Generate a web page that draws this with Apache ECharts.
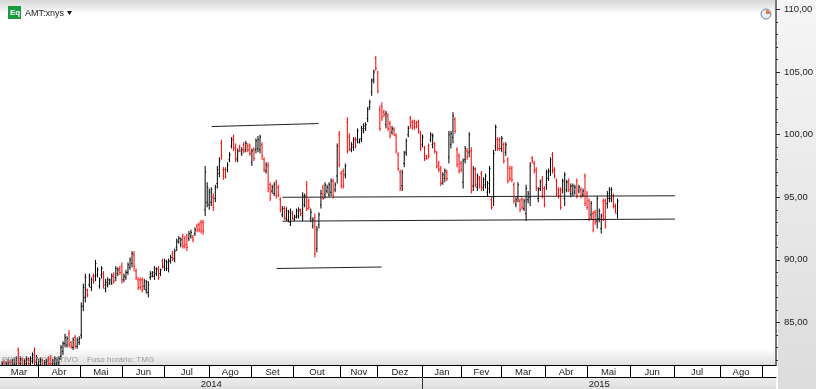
<!DOCTYPE html>
<html>
<head>
<meta charset="utf-8">
<style>
    html, body { margin: 0; padding: 0; background: #fff; }
    #chart { width: 816px; height: 389px; }
</style>
<script src="https://cdn.jsdelivr.net/npm/echarts@6/dist/echarts.min.js"></script>
</head>
<body>
<div id="chart"></div>
<script>
// ======================================数据======================================
var highs = [
    81.9,82.0,81.9,82.1,82.0,82.1,82.2,82.3,83.0,82.3,
    82.2,82.1,82.3,82.2,82.3,82.6,83.0,82.4,82.1,82.2,
    82.1,82.0,82.1,82.3,82.4,82.1,82.3,82.2,82.3,83.2,
    83.5,84.1,83.9,84.4,83.5,83.8,84.0,83.8,83.9,86.6,
    88.1,88.9,87.7,88.9,88.6,88.9,90.0,89.4,88.6,89.5,
    89.1,88.5,88.6,88.5,88.9,89.0,89.5,89.4,89.5,89.8,
    88.9,89.2,89.8,90.2,90.7,90.7,89.3,88.6,88.6,88.6,
    88.5,88.4,88.3,89.1,89.1,89.5,89.4,89.5,89.3,90.1,
    90.1,90.0,90.1,90.4,90.7,90.9,91.7,91.9,91.8,92.1,
    91.9,92.1,92.3,92.4,92.0,92.6,92.9,93.0,93.2,93.2,
    97.5,96.2,95.7,95.8,95.3,96.0,97.5,98.2,99.6,97.4,
    97.4,97.8,98.6,99.8,100.0,99.3,98.9,99.2,99.0,99.4,
    99.5,99.3,99.3,98.9,99.0,99.7,99.9,100.0,99.4,98.2,
    97.8,97.8,96.2,96.0,96.2,96.4,96.0,95.0,94.3,94.3,
    94.2,94.0,94.1,93.9,93.6,94.1,94.2,94.1,95.4,95.3,
    96.3,94.9,94.1,93.4,93.7,92.7,93.8,95.6,96.0,96.2,
    96.0,96.2,96.5,96.5,96.2,99.3,100.3,97.1,97.3,97.7,
    101.4,100.1,99.4,99.8,99.8,100.5,99.7,100.7,100.9,101.0,
    102.2,102.8,104.5,105.2,106.3,105.1,102.3,102.6,102.0,101.9,
    101.7,101.1,100.7,100.6,100.1,98.6,97.2,97.2,98.7,99.7,
    100.7,101.5,101.2,101.2,101.1,101.2,100.3,100.0,99.1,98.4,
    99.3,100.2,100.1,99.4,98.7,97.9,97.5,97.0,97.3,97.2,
    100.3,100.3,101.8,101.4,99.0,98.5,97.9,98.1,99.1,98.9,
    100.2,99.0,97.5,97.4,96.9,96.7,97.1,96.6,96.9,96.3,
    97.5,95.0,98.8,100.8,99.8,99.8,99.9,99.4,99.4,98.2,
    97.5,97.5,96.2,95.0,96.2,94.9,95.0,94.9,96.0,95.5,
    97.8,98.3,97.9,97.4,95.8,96.4,96.7,95.9,97.2,97.3,
    98.2,98.6,97.4,96.5,95.8,95.8,96.5,97.0,96.4,96.5,
    96.1,96.1,96.0,96.5,96.0,95.8,95.7,96.9,95.5,94.9,
    94.7,93.9,94.0,95.1,94.1,93.7,94.9,94.9,95.5,95.8,
    95.8,95.3,94.5,94.9
];
var lows = [
    81.2,81.2,81.2,81.3,81.2,81.3,81.4,81.4,81.5,81.5,
    81.4,81.3,81.5,81.4,81.5,81.7,81.6,81.6,81.4,81.4,
    81.3,81.3,81.4,81.5,81.5,81.4,81.5,81.5,81.6,82.0,
    82.4,83.0,83.0,83.0,82.9,82.8,82.9,82.9,83.2,83.7,
    85.9,86.6,87.0,87.8,87.5,88.1,88.3,88.6,87.7,88.5,
    87.7,87.4,87.8,88.0,88.0,88.1,88.3,88.7,88.8,88.1,
    88.2,88.4,88.8,89.2,89.4,89.1,88.4,87.6,87.6,87.4,
    87.6,87.3,87.0,88.4,88.6,88.4,88.7,88.4,88.7,89.3,
    89.1,89.1,89.0,89.7,89.9,89.8,90.7,91.3,91.0,90.9,
    90.9,90.7,91.5,91.7,91.4,91.9,92.2,92.2,92.1,92.0,
    93.5,94.2,94.0,94.3,93.9,94.6,95.7,96.6,98.0,96.4,
    96.5,97.0,97.8,98.9,98.7,97.8,97.8,98.6,98.3,98.5,
    98.6,98.6,98.3,97.5,97.9,98.5,98.6,98.5,98.0,97.0,
    96.9,95.4,94.7,95.3,95.1,94.9,95.0,93.8,93.4,93.2,
    93.1,93.0,92.7,93.2,93.1,93.3,93.3,93.5,93.1,94.2,
    93.9,94.0,93.0,92.5,90.2,90.6,92.5,94.1,94.8,94.9,
    95.3,95.0,95.1,94.9,95.4,96.1,97.4,95.7,95.7,96.5,
    98.5,98.7,98.6,98.7,98.9,99.3,99.3,99.4,100.1,100.3,
    101.0,102.0,103.1,104.1,105.1,103.3,100.3,101.1,101.4,100.5,
    100.3,99.7,100.0,99.9,98.5,97.1,95.5,95.5,97.4,98.3,
    99.8,100.5,100.4,100.4,100.5,100.1,98.7,99.0,97.9,98.0,
    98.1,99.4,98.9,98.5,97.3,97.0,95.9,96.0,96.2,96.3,
    97.7,98.9,99.3,100.1,97.4,96.9,97.0,95.7,97.7,98.0,
    98.2,95.3,95.5,95.8,95.5,95.7,95.5,95.5,95.7,95.1,
    95.3,94.0,94.3,98.7,98.7,98.7,98.6,97.7,98.3,96.1,
    96.3,96.2,94.5,94.2,94.6,93.8,94.0,93.9,93.1,94.5,
    94.3,97.7,96.9,95.5,94.6,95.5,94.9,94.2,95.6,96.3,
    96.7,96.9,96.5,95.1,94.9,94.0,95.3,94.3,95.4,95.4,
    95.0,95.1,95.2,94.9,95.3,94.9,95.0,94.3,94.0,93.1,
    93.2,92.2,92.8,92.5,93.0,92.1,93.1,92.5,94.1,94.6,
    94.6,94.1,93.7,93.3
];
var opens = [
    81.4,81.8,81.4,81.5,81.8,81.5,81.6,81.6,82.8,81.7,
    82.0,81.5,81.7,82.0,81.7,81.9,82.7,81.8,81.6,81.6,
    81.9,81.5,81.6,82.1,82.2,81.6,81.7,81.7,81.8,82.3,
    82.7,83.3,83.2,84.1,83.4,83.0,83.8,83.1,83.4,84.0,
    86.3,87.0,87.6,88.0,87.8,88.7,88.7,88.8,87.9,88.8,
    88.9,87.7,88.0,88.1,88.2,88.8,88.6,88.9,89.3,89.5,
    88.4,88.6,89.0,89.4,89.7,90.4,89.1,88.4,88.4,88.4,
    87.9,87.6,87.4,88.6,88.7,88.7,88.9,89.3,88.9,89.9,
    89.4,89.3,89.3,89.9,90.5,90.1,91.0,91.4,91.2,91.9,
    91.7,91.9,91.7,91.9,91.8,92.1,92.7,92.8,93.0,93.0,
    94.0,94.6,94.4,94.6,95.0,94.9,96.1,96.9,99.3,97.2,
    97.2,97.2,98.0,99.1,99.8,99.0,98.1,99.0,98.5,99.2,
    98.8,99.1,99.1,97.8,98.8,98.8,98.9,98.8,99.2,98.0,
    97.1,97.5,96.0,95.5,95.3,96.2,95.8,94.8,93.6,94.1,
    93.3,93.2,93.0,93.7,93.2,93.5,93.5,93.9,93.5,94.4,
    96.0,94.7,93.3,92.7,93.4,90.9,92.8,94.4,95.8,95.2,
    95.5,95.2,95.4,96.3,95.6,96.7,100.0,96.9,97.1,96.8,
    101.0,99.8,98.8,99.0,99.6,99.6,99.4,99.7,100.3,100.5,
    101.3,102.2,103.4,104.4,106.1,104.9,102.0,102.3,101.8,100.8,
    101.5,100.9,100.2,100.4,99.9,98.4,97.0,95.9,97.7,98.6,
    100.0,101.3,101.0,101.0,100.9,101.0,100.1,99.2,99.0,98.3,
    99.1,99.6,99.2,99.3,98.5,97.7,97.3,96.2,96.5,97.0,
    98.2,99.2,99.8,101.2,98.8,98.3,97.7,96.2,98.0,98.7,
    98.6,98.7,95.9,97.2,95.8,96.5,96.9,95.8,96.0,95.4,
    95.7,94.8,95.0,99.1,99.6,99.6,98.9,99.2,98.6,98.0,
    97.3,97.3,96.0,94.4,95.0,94.7,94.8,94.1,93.7,94.8,
    95.0,98.1,97.7,97.2,94.9,95.7,96.4,95.7,96.0,96.5,
    97.1,98.4,97.2,96.3,95.6,95.6,95.6,94.9,95.6,96.3,
    95.3,95.3,95.4,96.3,95.5,95.6,95.2,96.7,95.3,94.7,
    93.6,93.7,93.8,93.1,93.3,92.5,94.7,94.7,94.5,94.9,
    94.9,95.1,94.3,93.7
];
var closes = [
    81.7,81.5,81.7,81.9,81.4,81.9,82.0,82.1,81.9,82.1,
    81.6,81.9,82.1,81.6,82.1,82.4,81.9,82.2,81.9,82.0,
    81.5,81.8,81.9,81.7,81.7,81.9,82.1,82.0,82.1,83.0,
    83.3,83.8,83.7,83.2,83.1,83.6,83.1,83.6,83.7,86.3,
    87.8,88.6,87.2,88.7,88.4,88.3,89.7,89.2,88.4,89.3,
    88.0,88.2,88.4,88.4,88.7,88.3,89.3,89.2,89.0,88.4,
    88.7,89.0,89.6,90.0,90.5,89.5,88.6,87.8,87.8,87.6,
    88.3,88.2,88.0,88.9,89.0,89.3,89.2,88.6,89.2,89.5,
    89.9,89.8,89.9,90.2,90.1,90.7,91.5,91.7,91.6,91.1,
    91.2,91.0,92.1,92.2,91.6,92.4,92.4,92.4,92.3,92.3,
    97.0,95.8,95.4,95.6,94.2,95.8,97.2,97.9,98.3,96.6,
    96.7,97.6,98.4,99.6,98.9,98.0,98.7,98.7,98.8,98.7,
    99.3,98.8,98.5,98.7,98.1,99.5,99.6,99.8,98.3,97.2,
    97.6,95.7,94.9,95.8,96.0,95.1,95.2,94.0,94.1,93.4,
    93.9,93.8,93.9,93.3,93.4,93.9,94.0,93.7,95.1,95.1,
    94.1,94.2,93.8,93.2,90.5,92.4,93.6,95.3,94.9,96.0,
    95.8,96.0,96.3,95.1,96.0,99.1,97.6,95.9,95.9,97.5,
    98.7,98.9,99.2,99.6,99.1,100.3,99.6,100.5,100.7,100.8,
    102.0,102.6,104.3,105.0,105.3,103.5,100.5,101.4,101.6,101.7,
    100.5,99.9,100.5,100.0,98.7,97.3,95.7,97.0,98.5,99.5,
    100.5,100.7,100.6,100.6,100.7,100.3,98.9,99.8,98.1,98.1,
    98.3,100.0,99.9,98.7,97.5,97.2,96.1,96.8,97.1,96.5,
    100.0,100.1,101.5,100.3,97.6,97.1,97.2,97.9,98.9,98.2,
    100.0,95.5,97.3,96.0,96.7,95.9,95.7,96.4,96.7,96.1,
    97.3,94.2,98.5,100.6,98.9,98.9,99.7,97.9,99.2,96.3,
    96.5,96.4,94.7,94.8,96.0,94.0,94.2,94.7,95.7,95.3,
    97.5,97.9,97.1,95.7,95.6,96.2,95.1,94.4,97.0,97.1,
    98.0,97.1,96.7,95.3,95.1,94.2,96.3,96.8,96.2,95.6,
    95.9,95.9,95.8,95.1,95.8,95.1,95.5,94.5,94.2,93.3,
    94.5,92.4,93.0,94.9,93.9,93.5,93.3,92.7,95.3,95.6,
    95.6,94.3,93.9,94.7
];

// 月份格子的边界（单位：交易日序号）和标签
var monthNames = ['Mar', 'Abr', 'Mai', 'Jun', 'Jul', 'Ago', 'Set', 'Out', 'Nov', 'Dez', 'Jan', 'Fev', 'Mar', 'Abr', 'Mai', 'Jun', 'Jul', 'Ago'];
var monthEdges = [0, 18.7, 39.3, 60, 81.1, 102.8, 123.9, 144.5, 167.6, 185.8, 208, 227.1, 246.8, 268.4, 289, 310.2, 331.9, 354.5, 375.1];
var yearNames = ['2014', '2015'];
var yearEdges = [0, 208, 382];

// 手绘的趋势线：[序号, 价格]
var trendTop = [[104.2, 100.65], [156.8, 100.89]];
var trendResistance = [[139.1, 95.0], [332.3, 95.12]];
var trendSupport = [[139.1, 93.09], [332.3, 93.26]];
var trendBottom = [[136.2, 89.31], [187.8, 89.43]];

var priceMin = 81.6;
var priceMax = 110.76;
var dayMax = 382;
var priceLabels = [85, 90, 95, 100, 105, 110];
var priceTicks = [82, 83, 84, 85, 86, 87, 88, 89, 90, 91, 92, 93, 94, 95, 96, 97, 98, 99, 100, 101, 102, 103, 104, 105, 106, 107, 108, 109, 110];

// ======================================整理数据======================================
var ohlc = [];
for (var i = 0; i < highs.length; i++) {
    ohlc.push([i + 1, opens[i], closes[i], lows[i], highs[i]]);
}

function midpoints(edges) {
    var mids = [];
    for (var j = 0; j < edges.length - 1; j++) {
        mids.push((edges[j] + edges[j + 1]) / 2);
    }
    return mids;
}
var monthMids = midpoints(monthEdges);
var yearMids = midpoints(yearEdges);

function nameAt(mids, names, value) {
    for (var j = 0; j < mids.length; j++) {
        if (Math.abs(mids[j] - value) < 0.01) {
            return names[j];
        }
    }
    return '';
}

function renderBar(params, api) {
    var x = api.value(0);
    var open = api.coord([x, api.value(1)]);
    var close = api.coord([x, api.value(2)]);
    var low = api.coord([x, api.value(3)]);
    var high = api.coord([x, api.value(4)]);
    var color = api.value(2) >= api.value(1) ? '#000' : '#f00';
    var style = { stroke: color, lineWidth: 1, fill: null };
    return {
        type: 'group',
        children: [
            { type: 'line', shape: { x1: high[0], y1: high[1], x2: low[0], y2: low[1] }, style: style },
            { type: 'line', shape: { x1: open[0] - 1, y1: open[1], x2: open[0], y2: open[1] }, style: style },
            { type: 'line', shape: { x1: close[0], y1: close[1], x2: close[0] + 1, y2: close[1] }, style: style }
        ]
    };
}

function trendSeries(points) {
    return {
        type: 'line',
        data: points,
        showSymbol: false,
        silent: true,
        z: 5,
        lineStyle: { color: '#222', width: 1 }
    };
}

// ======================================图表======================================
var textFont = 'Liberation Sans';
var chart = echarts.init(document.getElementById('chart'));
chart.setOption({
    animation: false,
    backgroundColor: '#fff',
    textStyle: { fontFamily: textFont },
    grid: { left: 0, right: 39, top: 0, bottom: 24 },
    xAxis: [{
        type: 'value',
        min: 0,
        max: dayMax,
        position: 'bottom',
        splitLine: { show: false },
        axisLine: { show: true, onZero: false, lineStyle: { color: '#000', width: 1 } },
        axisTick: { show: true, customValues: monthEdges.slice(1), length: 12, lineStyle: { color: '#000', width: 1 } },
        axisLabel: {
            customValues: monthMids,
            margin: 2,
            fontSize: 9.5,
            color: '#222',
            formatter: function (value) { return nameAt(monthMids, monthNames, value); }
        }
    }, {
        type: 'value',
        min: 0,
        max: dayMax,
        position: 'bottom',
        offset: 12,
        splitLine: { show: false },
        axisLine: { show: true, onZero: false, lineStyle: { color: '#000', width: 1 } },
        axisTick: { show: true, customValues: [yearEdges[1]], length: 12, lineStyle: { color: '#333', width: 1 } },
        axisLabel: {
            customValues: yearMids,
            margin: 2,
            fontSize: 9.5,
            color: '#222',
            formatter: function (value) { return nameAt(yearMids, yearNames, value); }
        }
    }],
    yAxis: [{
        type: 'value',
        min: priceMin,
        max: priceMax,
        position: 'right',
        splitLine: { show: false },
        axisLine: { show: true, onZero: false, lineStyle: { color: '#777', width: 2 } },
        axisTick: { show: true, customValues: priceTicks, length: 2, lineStyle: { color: '#222', width: 1 } },
        axisLabel: { show: false }
    }, {
        type: 'value',
        min: priceMin,
        max: priceMax,
        position: 'right',
        splitLine: { show: false },
        axisLine: { show: false, onZero: false },
        axisTick: { show: true, customValues: priceLabels, length: 4, lineStyle: { color: '#222', width: 1 } },
        axisLabel: {
            customValues: priceLabels,
            margin: 8,
            fontSize: 9.5,
            color: '#222',
            formatter: function (value) { return value.toFixed(2).replace('.', ','); }
        }
    }],
    series: [{
        type: 'custom',
        renderItem: renderBar,
        data: ohlc,
        encode: { x: 0, y: [1, 2, 3, 4] },
        clip: true,
        silent: true,
        z: 3
    },
    trendSeries(trendTop),
    trendSeries(trendResistance),
    trendSeries(trendSupport),
    trendSeries(trendBottom)
    ],
    graphic: [
        // 顶部渐变
        { type: 'rect', z: -1, shape: { x: 0, y: 0, width: 776, height: 14 }, style: { fill: new echarts.graphic.LinearGradient(0, 0, 0, 1, [{ offset: 0, color: '#d6d6d6' }, { offset: 1, color: '#fff' }]) } },
        // 底部渐变
        { type: 'rect', z: -1, shape: { x: 0, y: 348, width: 776, height: 17 }, style: { fill: new echarts.graphic.LinearGradient(0, 0, 0, 1, [{ offset: 0, color: '#fff' }, { offset: 1, color: '#e0e0e0' }]) } },
        // 年份行
        { type: 'rect', z: -1, shape: { x: 0, y: 377, width: 776, height: 12 }, style: { fill: new echarts.graphic.LinearGradient(0, 0, 0, 1, [{ offset: 0, color: '#eee' }, { offset: 1, color: '#ddd' }]) } },
        // 右边价格栏
        { type: 'rect', z: -1, shape: { x: 778, y: 0, width: 38, height: 389 }, style: { fill: new echarts.graphic.LinearGradient(0, 0, 0, 1, [{ offset: 0, color: '#f6f6f6' }, { offset: 1, color: '#dcdcdc' }]) } },
        // 左上角的标题
        { type: 'rect', z: 10, shape: { x: 8, y: 6, width: 13, height: 13 }, style: { fill: '#1a9a3c' } },
        { type: 'text', z: 11, x: 10, y: 9, style: { text: 'Eq', fill: '#fff', font: 'bold 8px "Liberation Sans"' } },
        { type: 'text', z: 10, x: 25, y: 9, style: { text: 'AMT:xnys', fill: '#222', font: '9px "Liberation Sans"' } },
        { type: 'polygon', z: 10, shape: { points: [[67, 11], [72, 11], [69.5, 15]] }, style: { fill: '#111' } },
        // 时钟图标
        { type: 'circle', z: 10, shape: { cx: 766, cy: 14, r: 5 }, style: { fill: '#e8eef6', stroke: '#6a84a8', lineWidth: 1 } },
        { type: 'sector', z: 11, shape: { cx: 766, cy: 14, r: 4, r0: 0, startAngle: -Math.PI / 2, endAngle: 0 }, style: { fill: '#ee7733' } },
        // 底部提示
        { type: 'text', z: 10, x: 2, y: 356, style: { text: 'PREÇO INDICATIVO', fill: '#999', font: '8px "Liberation Sans"' } },
        { type: 'text', z: 10, x: 87, y: 356, style: { text: 'Fuso horário: TMG', fill: '#999', font: '8px "Liberation Sans"' } }
    ]
});
</script>
</body>
</html>
